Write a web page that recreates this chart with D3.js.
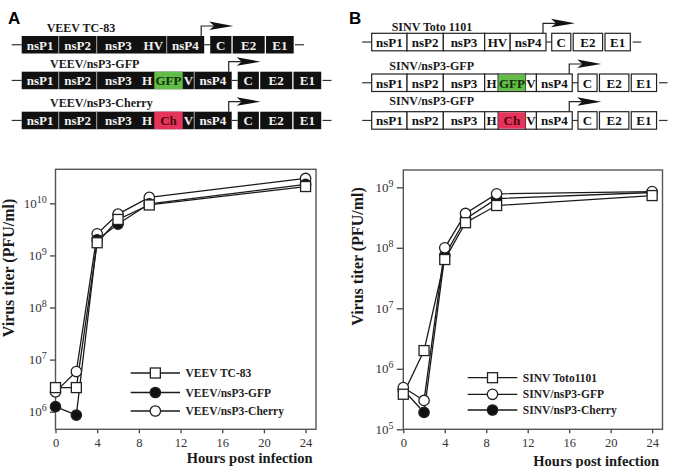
<!DOCTYPE html>
<html>
<head>
<meta charset="utf-8">
<script src="https://cdn.jsdelivr.net/npm/d3@7"></script>
<style>
  html, body { margin: 0; padding: 0; background: #fff; }
  svg { display: block; font-family: "Liberation Serif", "Times New Roman", serif; }
</style>
</head>
<body>
<svg id="fig" width="674" height="468"></svg>
<script>
// ---- data ----
const hours = [0, 2, 4, 6, 9, 24];
const xTicks = [0, 4, 8, 12, 16, 20, 24];

const veevNames = ["VEEV TC-83", "VEEV/nsP3-GFP", "VEEV/nsP3-Cherry"];
const veevTC83 = [2.9e6, 2.9e6, 1.75e9, 4.9e9, 9.3e9, 2.1e10];
const veevGFP = [1.25e6, 0.86e6, 2.0e9, 4.0e9, 9.8e9, 2.3e10];
const veevCherry = [2.4e6, 5.9e6, 2.6e9, 6.2e9, 1.3e10, 3.0e10];
const veevTicks = [1e6, 1e7, 1e8, 1e9, 1e10];

const sinvNames = ["SINV Toto1101", "SINV/nsP3-GFP", "SINV/nsP3-Cherry"];
const sinvToto = [3.8e5, 2.0e6, 6.4e7, 2.6e8, 5.0e8, 7.3e8];
const sinvGFP = [4.9e5, 3.0e5, 1.0e8, 3.7e8, 7.8e8, 8.5e8];
const sinvCherry = [4.5e5, 1.9e5, 7.5e7, 3.0e8, 6.5e8, 8.2e8];
const sinvTicks = [1e5, 1e6, 1e7, 1e8, 1e9];

// genome schematics
const constructsA = ["VEEV TC-83", "VEEV/nsP3-GFP", "VEEV/nsP3-Cherry"];
const constructsB = ["SINV Toto 1101", "SINV/nsP3-GFP", "SINV/nsP3-GFP"];
const nsWild = ["nsP1", "nsP2", "nsP3", "HV", "nsP4"];
const nsGFP = ["nsP1", "nsP2", "nsP3", "H", "GFP", "V", "nsP4"];
const nsCherry = ["nsP1", "nsP2", "nsP3", "H", "Ch", "V", "nsP4"];
const structural = ["C", "E2", "E1"];
const segLength = { nsP1: 37, nsP2: 38, nsP3: 43.3, HV: 26.7, H: 14.3, GFP: 28.4, Ch: 28.4, V: 11.5, nsP4: 37.5, C: 22.5, E2: 33.3, E1: 29 };
const nsP3Parts = ["HV", "H", "GFP", "Ch", "V"];
const insertColor = { GFP: "#62bd48", Ch: "#e6335a" };
const insertText = { GFP: "#12300a", Ch: "#4a0610" };

const svg = d3.select("#fig");

// panel letters
svg.append("text").attr("x", 8).attr("y", 23.5)
  .style("font-family", "'Liberation Sans', Arial, sans-serif")
  .style("font-weight", "bold").style("font-size", "17px").text("A");
svg.append("text").attr("x", 349).attr("y", 23.5)
  .style("font-family", "'Liberation Sans', Arial, sans-serif")
  .style("font-weight", "bold").style("font-size", "17px").text("B");

const drawConstruct = (opt) => {
  const g = svg.append("g");
  const u = d3.scaleLinear().domain([0, 1]).range([0, opt.k]);
  const h = 17.5;
  const top = opt.top;

  g.append("text").attr("x", opt.labelX).attr("y", opt.labelY)
    .style("font-weight", "bold").style("font-size", "12px").attr("fill", "#1a1a1a")
    .text(opt.label);

  // ns block
  let x = opt.x0;
  const nsSegs = opt.ns.map(s => {
    const d = { name: s, x: x, w: u(segLength[s]) };
    x += d.w;
    return d;
  });
  const nsEnd = x;
  const cStart = nsEnd + u(6);
  x = cStart;
  const stSegs = structural.map(s => {
    const d = { name: s, x: x, w: u(segLength[s]) };
    x += d.w;
    return d;
  });
  const stEnd = x;

  // backbone line
  g.append("line").attr("x1", opt.x0 - u(10)).attr("x2", opt.x0).attr("y1", top + h / 2).attr("y2", top + h / 2)
    .attr("stroke", "#333").attr("stroke-width", 1.2);
  g.append("line").attr("x1", nsEnd).attr("x2", cStart).attr("y1", top + h / 2).attr("y2", top + h / 2)
    .attr("stroke", "#333").attr("stroke-width", 1.2);
  g.append("line").attr("x1", stEnd).attr("x2", stEnd + u(9)).attr("y1", top + h / 2).attr("y2", top + h / 2)
    .attr("stroke", "#333").attr("stroke-width", 1.2);

  if (opt.dark) {
    g.append("rect").attr("x", opt.x0).attr("y", top).attr("width", nsEnd - opt.x0).attr("height", h).attr("fill", "#111");
    nsSegs.forEach((d, i) => {
      if (i > 0 && (!nsP3Parts.includes(d.name) || d.name === "nsP4")) {
        g.append("line").attr("x1", d.x).attr("x2", d.x).attr("y1", top).attr("y2", top + h)
          .attr("stroke", "#aaa").attr("stroke-width", 1);
      }
    });
    stSegs.forEach(d => {
      g.append("rect").attr("x", d.x).attr("y", top).attr("width", d.w - 1.3).attr("height", h).attr("fill", "#111");
    });
  } else {
    nsSegs.forEach(d => {
      g.append("rect").attr("x", d.x).attr("y", top).attr("width", d.w).attr("height", h)
        .attr("fill", "#fff").attr("stroke", "#222").attr("stroke-width", 1.2);
    });
    stSegs.forEach(d => {
      g.append("rect").attr("x", d.x).attr("y", top).attr("width", d.w - 2.4).attr("height", h)
        .attr("fill", "#fff").attr("stroke", "#222").attr("stroke-width", 1.2);
    });
  }

  nsSegs.filter(d => insertColor[d.name]).forEach(d => {
    g.append("rect").attr("x", d.x).attr("y", top + (opt.dark ? 0 : 0.6)).attr("width", d.w).attr("height", h - (opt.dark ? 0 : 1.2))
      .attr("fill", insertColor[d.name]);
  });

  const txtFill = opt.dark ? "#f2f2f2" : "#111";
  nsSegs.concat(stSegs).forEach(d => {
    const isSt = structural.includes(d.name);
    const cx = d.x + (isSt ? (d.w - (opt.dark ? 1.3 : 2.4)) / 2 : d.w / 2);
    g.append("text").attr("x", cx).attr("y", top + h - 4)
      .attr("text-anchor", "middle")
      .style("font-weight", "bold").style("font-size", "13px")
      .attr("fill", insertText[d.name] || txtFill)
      .text(d.name);
  });

  // promoter arrow
  const ax = nsEnd - 3;
  const ay = top - 10;
  const aEnd = ax + 32;
  g.append("path").attr("d", `M${ax},${top} L${ax},${ay} L${aEnd - 18},${ay}`)
    .attr("fill", "none").attr("stroke", "#222").attr("stroke-width", 1.2);
  g.append("path").attr("d", `M${aEnd},${ay} L${aEnd - 24},${ay - 4.5} L${aEnd - 19},${ay} L${aEnd - 24},${ay + 4} Z`)
    .attr("fill", "#111");
};

const nsRows = [nsWild, nsGFP, nsCherry];
const topsA = [36, 71.7, 111.7];
const labA = [[46.7, 31.7], [50, 68.3], [50, 107.3]];
constructsA.forEach((c, i) => {
  drawConstruct({ label: c, labelX: labA[i][0], labelY: labA[i][1], top: topsA[i], x0: 21.7, k: 1, dark: true, ns: nsRows[i] });
});
const topsB = [33.3, 74, 111.7];
const labB = [[391.7, 30.7], [389.3, 70], [389.3, 104.7]];
constructsB.forEach((c, i) => {
  drawConstruct({ label: c, labelX: labB[i][0], labelY: labB[i][1], top: topsB[i], x0: 371.7, k: 0.955, dark: false, ns: nsRows[i] });
});

// ---- growth curves ----
const drawMarker = (g, type, cx, cy) => {
  if (type === "square") {
    g.append("rect").attr("x", cx - 5).attr("y", cy - 5).attr("width", 10).attr("height", 10)
      .attr("fill", "#fff").attr("stroke", "#222").attr("stroke-width", 1.3);
  } else {
    g.append("circle").attr("cx", cx).attr("cy", cy).attr("r", 5.2)
      .attr("fill", type === "filled" ? "#111" : "#fff").attr("stroke", "#222").attr("stroke-width", 1.3);
  }
};

const drawPlot = (opt) => {
  const g = svg.append("g");
  const x = d3.scaleLinear().domain([0, 25]).range(opt.xRange);
  const y = d3.scaleLog().domain(opt.yDomain).range(opt.yRange);

  // y axis
  const ya = g.append("g").attr("transform", `translate(${opt.xRange[0]},0)`)
    .call(d3.axisLeft(y).tickValues(opt.ticks).tickSize(opt.tick).tickPadding(3.3).tickFormat(() => ""));
  ya.select(".domain").remove();
  ya.selectAll("line").attr("stroke", "#444").attr("stroke-width", 1.3);
  ya.selectAll(".tick text").each(function (d) {
    const t = d3.select(this).attr("fill", "#333").style("font-size", "13px").style("font-family", "'Liberation Serif', serif");
    t.append("tspan").text("10");
    t.append("tspan").attr("dy", "-5").style("font-size", "10px").text(Math.round(Math.log10(d)));
  });

  // x axis
  const xa = g.append("g").attr("transform", `translate(0,${opt.yRange[0]})`)
    .call(d3.axisBottom(x).tickValues(xTicks).tickSize(4).tickPadding(5));
  xa.select(".domain").remove();
  xa.selectAll("line").attr("stroke", "#444").attr("stroke-width", 1.3);
  xa.selectAll("text").attr("fill", "#333").style("font-size", "12.5px").style("font-family", "'Liberation Serif', serif");

  // frame
  g.append("rect").attr("x", opt.xRange[0]).attr("y", opt.yRange[1])
    .attr("width", opt.xRange[1] - opt.xRange[0]).attr("height", opt.yRange[0] - opt.yRange[1])
    .attr("fill", "none").attr("stroke", "#555").attr("stroke-width", 1.4);

  const line = d3.line().x((d, i) => x(hours[i])).y(d => y(d));
  opt.series.forEach(s => {
    g.append("path").datum(s.values).attr("d", line)
      .attr("fill", "none").attr("stroke", "#1a1a1a").attr("stroke-width", 1.3);
  });
  opt.series.forEach(s => {
    s.values.forEach((v, i) => drawMarker(g, s.marker, x(hours[i]), y(v)));
  });

  // legend
  opt.legend.forEach((s, i) => {
    const ly = opt.legendY[i];
    g.append("line").attr("x1", opt.legendX[0]).attr("x2", opt.legendX[1]).attr("y1", ly).attr("y2", ly)
      .attr("stroke", "#1a1a1a").attr("stroke-width", 1.3);
    drawMarker(g, s.marker, (opt.legendX[0] + opt.legendX[1]) / 2, ly);
    g.append("text").attr("x", opt.legendX[1] + 5.5).attr("y", ly + 4)
      .style("font-weight", "bold").style("font-size", "11.5px").attr("fill", "#222")
      .text(s.name);
  });

  // axis titles
  g.append("text").attr("x", opt.xRange[1] - 3.5).attr("y", opt.xLabelY)
    .attr("text-anchor", "end").style("font-weight", "bold").style("font-size", "14.5px").attr("fill", "#1a1a1a")
    .text("Hours post infection");
  g.append("text").attr("transform", `translate(${opt.yLabelX},${opt.yLabelCY}) rotate(-90)`)
    .attr("text-anchor", "middle").style("font-weight", "bold").style("font-size", "16px").attr("fill", "#1a1a1a")
    .text("Virus titer (PFU/ml)");
};

const seriesA = [
  { name: veevNames[2], values: veevCherry, marker: "open" },
  { name: veevNames[1], values: veevGFP, marker: "filled" },
  { name: veevNames[0], values: veevTC83, marker: "square" }
];
drawPlot({
  xRange: [55.5, 316],
  yRange: [429.3, 169.3],
  yDomain: [Math.pow(10, 5.662), Math.pow(10, 10.653)],
  ticks: veevTicks,
  tick: 5.5,
  series: seriesA,
  legend: [seriesA[2], seriesA[1], seriesA[0]],
  legendX: [130.7, 180],
  legendY: [373, 392.5, 411],
  xLabelY: 463,
  yLabelX: 13.5,
  yLabelCY: 268
});

const seriesB = [
  { name: sinvNames[2], values: sinvCherry, marker: "filled" },
  { name: sinvNames[1], values: sinvGFP, marker: "open" },
  { name: sinvNames[0], values: sinvToto, marker: "square" }
];
drawPlot({
  xRange: [403.3, 662.5],
  yRange: [429.3, 170],
  yDomain: [1e5, Math.pow(10, 9.286)],
  ticks: sinvTicks,
  tick: 6.5,
  series: seriesB,
  legend: [seriesB[2], seriesB[1], seriesB[0]],
  legendX: [467.7, 517.3],
  legendY: [377.7, 394.3, 410],
  xLabelY: 465.5,
  yLabelX: 363,
  yLabelCY: 256.5
});
</script>
</body>
</html>
